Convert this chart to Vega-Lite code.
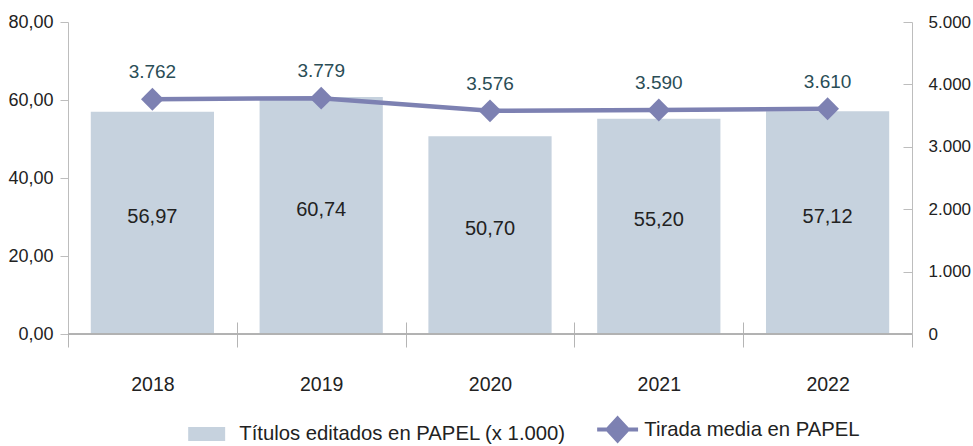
{
  "$schema": "https://vega.github.io/schema/vega-lite/v6.json",
  "autosize": "none",
  "width": 844,
  "height": 312,
  "padding": {"left": 68, "top": 22, "right": 61, "bottom": 112},
  "background": "white",
  "config": {
    "view": {"stroke": null},
    "font": "Liberation Sans",
    "locale": {"number": {"decimal": ",", "thousands": ".", "grouping": [3], "currency": ["", " €"]}},
    "axis": {"labelFont": "Liberation Sans", "labelColor": "#222222", "domainColor": "#bdbdbd", "tickColor": "#bdbdbd", "grid": false, "title": null}
  },
  "data": {"values": [
    {"anio": "2018", "titulos": 56.97, "tirada": 3762},
    {"anio": "2019", "titulos": 60.74, "tirada": 3779},
    {"anio": "2020", "titulos": 50.70, "tirada": 3576},
    {"anio": "2021", "titulos": 55.20, "tirada": 3590},
    {"anio": "2022", "titulos": 57.12, "tirada": 3610}
  ]},
  "encoding": {
    "x": {
      "field": "anio", "type": "ordinal",
      "scale": {"paddingInner": 0, "paddingOuter": 0},
      "axis": {"labelAngle": 0, "labelFontSize": 19.5, "tickBand": "extent", "tickSize": 25, "offset": -12, "domain": false, "labelPadding": 28, "tickColor": "#b5b5b5"}
    }
  },
  "layer": [
    {
      "layer": [
        {
          "mark": {"type": "bar", "color": "#c6d2de", "width": {"band": 0.73}},
          "encoding": {
            "color": {"datum": "Títulos editados en PAPEL (x 1.000)", "type": "nominal",
              "scale": {"domain": ["Títulos editados en PAPEL (x 1.000)", "Tirada media en PAPEL"], "range": ["#c6d2de", "#7d81b2"]},
              "legend": {
                "orient": "none", "legendX": 136, "legendY": 397, "direction": "horizontal", "title": null,
                "labelFontSize": 20.3, "labelColor": "#222222", "labelLimit": 500, "symbolSize": 1936, "columnPadding": 23, "labelOffset": 15,
                "symbolType": "M-1.18,-0.32H0.5V0.32H-1.18Z",
                "encode": {"symbols": {"update": {
                  "shape": {"signal": "datum.value === 'Tirada media en PAPEL' ? 'M-1,0H0.86M-0.07,-0.5L0.39,0L-0.07,0.5L-0.53,0Z' : 'M-1.18,-0.32H0.5V0.32H-1.18Z'"},
                  "strokeWidth": {"signal": "datum.value === 'Tirada media en PAPEL' ? 4 : 0"},
                  "stroke": {"signal": "datum.value === 'Tirada media en PAPEL' ? '#7d81b2' : '#c6d2de'"},
                  "fill": {"signal": "datum.value === 'Tirada media en PAPEL' ? '#7d81b2' : '#c6d2de'"},
                  "opacity": {"value": 1},
                  "fillOpacity": {"value": 1}
                }}}
              }
            }
          }
        },
        {
          "mark": {"type": "rule", "color": "#b0b0b0", "strokeWidth": 1},
          "encoding": {"x": null, "y": {"datum": 0}}
        }
      ],
      "encoding": {
        "y": {"field": "titulos", "type": "quantitative", "scale": {"domain": [0, 80]},
          "axis": {"values": [0, 20, 40, 60, 80], "format": ",.2f", "labelFontSize": 18, "tickSize": 8, "labelPadding": 7}}
      }
    },
    {
      "mark": {"type": "text", "fontSize": 20, "color": "#222222", "baseline": "middle", "dy": -6},
      "encoding": {
        "y": {"field": "titulos", "type": "quantitative", "scale": {"domain": [0, 160]}, "axis": null},
        "text": {"field": "titulos", "type": "quantitative", "format": ",.2f"}
      }
    },
    {
      "layer": [
        {
          "mark": {"type": "line", "strokeWidth": 4.5, "point": {"shape": "diamond", "size": 520, "filled": true, "opacity": 1}},
          "encoding": {
            "color": {"datum": "Tirada media en PAPEL", "type": "nominal"}
          }
        },
        {
          "mark": {"type": "text", "fontSize": 19, "color": "#2a4d56", "baseline": "middle", "dy": -27},
          "encoding": {
            "text": {"field": "tirada", "type": "quantitative", "format": ",d"}
          }
        }
      ],
      "encoding": {
        "y": {"field": "tirada", "type": "quantitative", "scale": {"domain": [0, 5000]},
          "axis": {"orient": "right", "values": [0, 1000, 2000, 3000, 4000, 5000], "format": ",d", "labelFontSize": 17, "tickSize": -9, "labelPadding": 25}}
      }
    }
  ],
  "resolve": {"scale": {"y": "independent"}}
}
